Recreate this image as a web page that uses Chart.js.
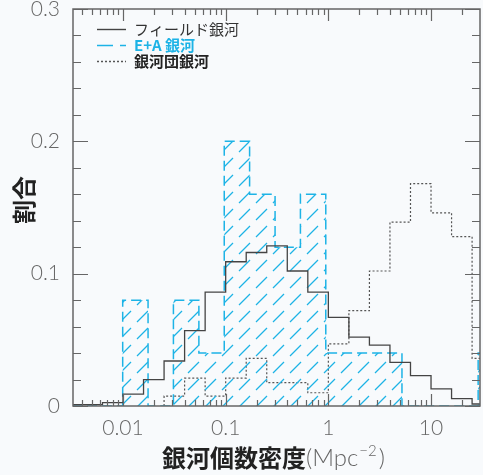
<!DOCTYPE html>
<html>
<head>
<meta charset="utf-8">
<script src="https://cdn.jsdelivr.net/npm/chart.js@4.4.1/dist/chart.umd.min.js"></script>
<style>
  html, body { margin: 0; padding: 0; background: #f8fafc; }
  #wrap { width: 483px; height: 475px; }
</style>
</head>
<body>
<div id="wrap"><canvas id="chart" width="483" height="475"></canvas></div>
<script>
// bin edges are log10(density / Mpc^-2)
const fieldLogEdges = [-2.6, -2.4, -2.2, -2.0, -1.8, -1.6, -1.4, -1.2, -1.0, -0.8, -0.6,
                       -0.4, -0.2, 0.0, 0.2, 0.4, 0.6, 0.8, 1.0, 1.2, 1.4, 1.6];
const fieldValues = [0.001, 0.001, 0.0025, 0.009, 0.02, 0.034, 0.057, 0.086, 0.109, 0.116, 0.121,
                     0.102, 0.086, 0.067, 0.052, 0.046, 0.033, 0.023, 0.013, 0.0055, 0.0015];

const eaLogEdges = [-2.745, -2.497, -2.250, -2.003, -1.756, -1.509, -1.261, -1.014, -0.767, -0.519,
                    -0.272, -0.025, 0.222, 0.470, 0.717, 0.964, 1.212, 1.459, 1.706];
const eaValues = [0, 0, 0, 0.08, 0, 0.08, 0.04, 0.2, 0.16, 0.12, 0.16, 0.04, 0.04, 0.04, 0, 0, 0, 0.04];

const clusterLogEdges = [-1.6, -1.4, -1.2, -1.0, -0.8, -0.6, -0.4, -0.2, 0.0, 0.2, 0.4, 0.6,
                         0.8, 1.0, 1.2, 1.4, 1.6];
const clusterValues = [0.0075, 0.021, 0.0075, 0.021, 0.036, 0.0176, 0.0176, 0.010, 0.047, 0.072,
                       0.102, 0.139, 0.168, 0.146, 0.128, 0.036];

const seriesNames = ['フィールド銀河', 'E+A 銀河', '銀河団銀河'];
const xTickValues = [0.01, 0.1, 1, 10];
const xTickLabels = ['0.01', '0.1', '1', '10'];
const xTitle = '銀河個数密度';
const xUnit = 'Mpc';
const xUnitExp = '−2';
const yTitle = '割合';

const CYAN = '#1db3e6';
const DARK = '#444';

// histogram -> stepped line points
function toSteps(logEdges, values) {
    const pts = [{ x: Math.pow(10, logEdges[0]), y: 0 }];
    values.forEach((v, i) => pts.push({ x: Math.pow(10, logEdges[i]), y: v }));
    pts.push({ x: Math.pow(10, logEdges[logEdges.length - 1]), y: 0 });
    return pts;
}

// dashed diagonal hatch
function makeHatch() {
    const s = 17;
    const c = document.createElement('canvas');
    c.width = s; c.height = s;
    const g = c.getContext('2d');
    g.strokeStyle = CYAN;
    g.lineWidth = 1.3;
    g.beginPath();
    g.moveTo(1, s - 1);
    g.lineTo(12, s - 12);
    g.stroke();
    return g.createPattern(c, 'repeat');
}

const framePlugin = {
    id: 'frame',
    afterDatasetsDraw(chart) {
        const { ctx, chartArea: a, scales: { x, y } } = chart;
        ctx.save();
        ctx.strokeStyle = '#666';
        ctx.lineWidth = 1.2;
        ctx.beginPath();
        for (let e = -3; e <= 1; e++) {
            for (let k = 1; k <= 9; k++) {
                const v = k * Math.pow(10, e);
                if (v < x.min || v > x.max) continue;
                const px = Math.round(x.getPixelForValue(v)) + 0.5;
                const len = k === 1 ? 12 : 6;
                ctx.moveTo(px, a.bottom); ctx.lineTo(px, a.bottom - len);
                ctx.moveTo(px, a.top); ctx.lineTo(px, a.top + len);
            }
        }
        for (let i = 0; i <= 15; i++) {
            const py = Math.round(y.getPixelForValue(i * 0.02)) + 0.5;
            const len = i % 5 === 0 ? 15 : 8;
            ctx.moveTo(a.left, py); ctx.lineTo(a.left + len, py);
            ctx.moveTo(a.right, py); ctx.lineTo(a.right - len, py);
        }
        ctx.stroke();
        ctx.lineWidth = 1.5;
        ctx.strokeRect(a.left, a.top, a.width, a.height);
        ctx.restore();
    },
    afterDraw(chart) {
        const { ctx } = chart;
        ctx.save();
        // legend
        const rows = [
            { y: 29, color: DARK, dash: [], text: '#333', weight: 'normal' },
            { y: 45, color: CYAN, dash: [16, 7], text: CYAN, weight: 'bold' },
            { y: 61, color: '#555', dash: [2, 2], text: '#222', weight: 'bold' }
        ];
        rows.forEach((r, i) => {
            ctx.strokeStyle = r.color;
            ctx.lineWidth = 1.4;
            ctx.setLineDash(r.dash);
            ctx.beginPath();
            ctx.moveTo(97, r.y + 0.5);
            ctx.lineTo(126, r.y + 0.5);
            ctx.stroke();
            ctx.setLineDash([]);
            ctx.fillStyle = r.text;
            ctx.font = r.weight + " 15px 'Noto Sans CJK JP', sans-serif";
            ctx.textBaseline = 'middle';
            ctx.textAlign = 'left';
            ctx.fillText(seriesNames[i], 134, r.y);
        });

        // x title
        let tx = 162;
        const ty = 458;
        ctx.textBaseline = 'middle';
        ctx.fillStyle = '#222';
        ctx.font = "bold 24px 'Noto Sans CJK JP', sans-serif";
        ctx.fillText(xTitle, tx, ty);
        tx += ctx.measureText(xTitle).width;
        ctx.fillStyle = '#666';
        ctx.font = "300 24px 'Lato', 'Noto Sans', sans-serif";
        ctx.fillText('(' + xUnit, tx, ty);
        tx += ctx.measureText('(' + xUnit).width + 1;
        ctx.font = "300 15px 'Lato', 'Noto Sans', sans-serif";
        ctx.fillText(xUnitExp, tx, ty - 7);
        tx += ctx.measureText(xUnitExp).width + 2;
        ctx.font = "300 24px 'Lato', 'Noto Sans', sans-serif";
        ctx.fillText(')', tx, ty);

        // y title
        ctx.translate(24, 200);
        ctx.rotate(-Math.PI / 2);
        ctx.textAlign = 'center';
        ctx.fillStyle = '#222';
        ctx.font = "bold 24px 'Noto Sans CJK JP', sans-serif";
        ctx.fillText(yTitle, 0, 0);
        ctx.restore();
    }
};

const tickFont = { family: "'Lato', 'Noto Sans', sans-serif", size: 21, weight: '300' };

new Chart(document.getElementById('chart'), {
    type: 'line',
    data: {
        datasets: [{
            label: seriesNames[0],
            data: toSteps(fieldLogEdges, fieldValues),
            stepped: true,
            borderColor: DARK,
            borderWidth: 1.3,
            pointRadius: 0,
            fill: false
        }, {
            label: seriesNames[1],
            data: toSteps(eaLogEdges, eaValues),
            stepped: true,
            borderColor: CYAN,
            borderWidth: 1.5,
            borderDash: [10, 5],
            pointRadius: 0,
            fill: 'origin',
            backgroundColor: makeHatch()
        }, {
            label: seriesNames[2],
            data: toSteps(clusterLogEdges, clusterValues),
            stepped: true,
            borderColor: '#555',
            borderWidth: 1.2,
            borderDash: [2, 2],
            pointRadius: 0,
            fill: false
        }]
    },
    options: {
        responsive: false,
        animation: false,
        layout: { padding: { top: 9, right: 3, left: 0, bottom: 0 } },
        plugins: {
            legend: { display: false },
            tooltip: { enabled: false }
        },
        scales: {
            x: {
                type: 'logarithmic',
                min: Math.pow(10, -2.487),
                max: Math.pow(10, 1.477),
                grid: { display: false, drawTicks: false },
                border: { display: false },
                afterBuildTicks: scale => { scale.ticks = xTickValues.map(v => ({ value: v })); },
                afterFit: scale => {
                    scale.height = 69;
                    scale.paddingLeft = 0;
                    scale.paddingRight = 0;
                },
                ticks: {
                    autoSkip: false,
                    maxRotation: 0,
                    padding: 10,
                    color: '#666',
                    font: tickFont,
                    callback: (value) => {
                        const i = xTickValues.findIndex(v => Math.abs(v / value - 1) < 1e-6);
                        return i >= 0 ? xTickLabels[i] : '';
                    }
                }
            },
            y: {
                min: 0,
                max: 0.3,
                grid: { display: false, drawTicks: false },
                border: { display: false },
                afterFit: scale => {
                    scale.width = 73;
                    scale.paddingTop = 0;
                    scale.paddingBottom = 0;
                },
                ticks: {
                    stepSize: 0.1,
                    padding: 13,
                    color: '#666',
                    font: tickFont
                }
            }
        }
    },
    plugins: [framePlugin]
});
</script>
</body>
</html>
